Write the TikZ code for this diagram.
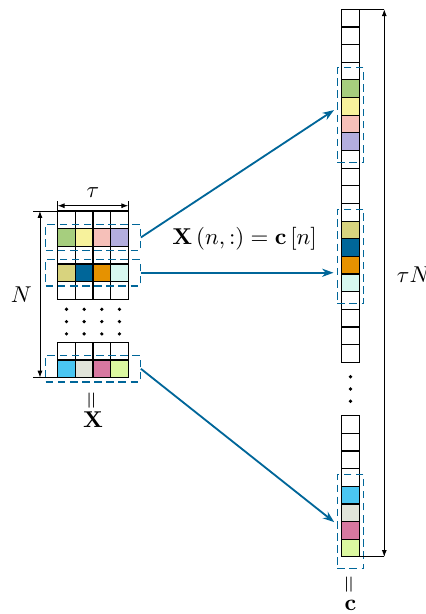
\documentclass[tikz,border=0pt]{standalone}
\usepackage{amsmath}
\usepackage{amssymb}
\usetikzlibrary{arrows.meta,positioning,fit}

\definecolor{azul}{RGB}{0,102,153}
\definecolor{verde}{RGB}{166,206,126}
\definecolor{amarillo}{RGB}{247,242,156}
\definecolor{rosa}{RGB}{246,192,185}
\definecolor{lila}{RGB}{179,174,222}
\definecolor{oliva}{RGB}{216,211,126}
\definecolor{marino}{RGB}{0,102,153}
\definecolor{naranja}{RGB}{230,146,0}
\definecolor{menta}{RGB}{215,248,240}
\definecolor{cielo}{RGB}{74,198,242}
\definecolor{gris}{RGB}{225,228,218}
\definecolor{malva}{RGB}{215,120,160}
\definecolor{lima}{RGB}{220,248,160}

\begin{document}
\begin{tikzpicture}[x=0.4367pt, y=-0.4367pt,
  celda/.style={draw=black, line width=0.5pt, minimum size=7.71pt, inner sep=0pt, outer sep=0pt},
  marcoh/.style={draw=azul, line width=0.5pt, dash pattern=on 3.3pt off 2pt,
                 inner xsep=5.24pt, inner ysep=1.92pt},
  marcov/.style={marcoh, inner xsep=1.92pt, inner ysep=5.24pt},
  flecha/.style={-{Stealth[length=5pt,width=3.6pt]}, azul, line width=0.8pt, shorten >=1.4pt},
  cota/.style={{Latex[length=3pt,width=2.2pt]}-{Latex[length=3pt,width=2.2pt]}, line width=0.4pt}]
  \useasboundingbox (0,0) rectangle (425,614);
  % matriz X
  \foreach \r/\fila in {0/{white,white,white,white}, 1/{verde,amarillo,rosa,lila},
                        2/{white,white,white,white}, 3/{oliva,marino,naranja,menta},
                        4/{white,white,white,white}}
    \foreach \col [count=\c from 0] in \fila
      \node[celda, fill=\col] (x\r\c) at (66.5+17.65*\c, 219.8+17.65*\r) {};
  \foreach \r/\fila in {0/{white,white,white,white}, 1/{cielo,gris,malva,lima}}
    \foreach \col [count=\c from 0] in \fila
      \node[celda, fill=\col] (y\r\c) at (66.5+17.65*\c, 351.1+17.65*\r) {};
  \foreach \c in {0,...,3}
    \foreach \r in {0,1,2}
      \fill (66.5+17.65*\c, 309.3+12.3*\r) circle (0.8pt);
  % vector c
  \foreach \col [count=\k from 0] in {white,white,white,white,verde,amarillo,rosa,lila,
                                      white,white,white,white,oliva,marino,naranja,menta,
                                      white,white,white,white}
    \node[celda, fill=\col] (c\k) at (350.5, 18.1+17.65*\k) {};
  \foreach \col [count=\k from 0] in {white,white,white,white,cielo,gris,malva,lima}
    \node[celda, fill=\col] (d\k) at (350.5, 424.5+17.65*\k) {};
  \foreach \r in {0,1,2}
    \fill (350.5, 376.7+12.3*\r) circle (0.8pt);
  % marcos
  \node[marcoh, fit=(x10)(x13)] (mx1) {};
  \node[marcoh, fit=(x30)(x33)] (mx3) {};
  \node[marcoh, fit=(y10)(y13)] (my1) {};
  \node[marcov, fit=(c4)(c7)]   (mc1) {};
  \node[marcov, fit=(c12)(c15)] (mc3) {};
  \node[marcov, fit=(d4)(d7)]   (md1) {};
  % flechas
  \draw[flecha] (mx1.east) -- ([yshift=3pt]mc1.west);
  \draw[flecha] (mx3.east) -- node[pos=0.53, above=6pt, text=black] (eq) {$\mathbf{X}\left(n,:\right)=\mathbf{c}\left[n\right]$} (mx3.east -| mc3.west);
  \draw[flecha] (my1.east) -- ([yshift=-1.1pt]md1.west);
  % cotas
  \coordinate (tizq) at ([yshift=2.3pt]x00.north west);
  \coordinate (tder) at ([yshift=2.3pt]x03.north east);
  \draw (x00.north west) -- ([yshift=2.2pt]tizq);
  \draw (x03.north east) -- ([yshift=2.2pt]tder);
  \draw[cota] (tizq) -- node[midway, above] (lt) {$\tau$} (tder);
  \coordinate (nsup) at ([xshift=-7.73pt]x00.north west);
  \coordinate (ninf) at ([xshift=-7.73pt]y10.south west);
  \draw (x00.north west) -- ([xshift=-3pt]nsup);
  \draw (y10.south west) -- ([xshift=-3pt]ninf);
  \draw[cota] (nsup) -- node[midway, left] (ln) {$N$} (ninf);
  \coordinate (tnsup) at ([xshift=10.9pt]c0.north east);
  \coordinate (tninf) at ([xshift=10.9pt]d7.south east);
  \draw (c0.north east) -- (tnsup);
  \draw (d7.south east) -- (tninf);
  \draw[cota] (tnsup) -- node[midway, right=2pt, yshift=3.75pt] (ltn) {$\tau N$} (tninf);
  % etiquetas
  \node[rotate=90] (igx) at (93, 401) {$=$};
  \node (lx) at (93, 419.7) {$\mathbf{X}$};
  \node[rotate=90] (igc) at (350.5, 585) {$=$};
  \node (lc) at (350.5, 605.5) {$\mathbf{c}$};
\end{tikzpicture}
\end{document}
